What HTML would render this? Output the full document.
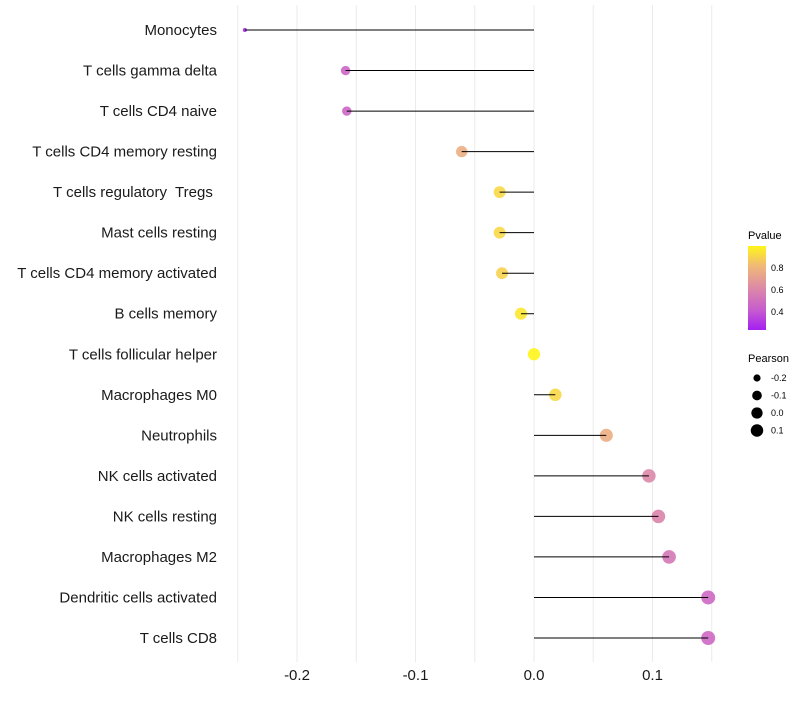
<!DOCTYPE html>
<html><head><meta charset="utf-8"><style>
body{margin:0;background:#fff;font-family:"Liberation Sans",sans-serif}
text{white-space:pre}
</style></head><body>
<svg id="c" width="800" height="700" xmlns="http://www.w3.org/2000/svg" font-family="Liberation Sans, sans-serif">
<defs><linearGradient id="pg" x1="0" y1="1" x2="0" y2="0">
<stop offset="0" stop-color="#a31ff2"/><stop offset="0.23" stop-color="#c65ad0"/><stop offset="0.49" stop-color="#dc88a8"/><stop offset="0.76" stop-color="#f0b878"/><stop offset="1" stop-color="#fff51a"/></linearGradient></defs>
<g id="grid"></g>
<g id="marks"></g>
<g id="ylab"></g>
<g id="xlab"></g>
<g>
<text x="748" y="239" font-size="11">Pvalue</text>
<rect x="748" y="246" width="18" height="84" fill="url(#pg)"/>
<text x="771" y="271" font-size="9">0.8</text>
<text x="771" y="293" font-size="9">0.6</text>
<text x="771" y="315" font-size="9">0.4</text>
</g>
<g id="sizeleg">
<text x="748" y="362" font-size="11">Pearson</text>
</g>
</svg>
<script>
const categories=["Monocytes","T cells gamma delta","T cells CD4 naive","T cells CD4 memory resting","T cells regulatory  Tregs ","Mast cells resting","T cells CD4 memory activated","B cells memory","T cells follicular helper","Macrophages M0","Neutrophils","NK cells activated","NK cells resting","Macrophages M2","Dendritic cells activated","T cells CD8"];
const pearson=[-0.244,-0.159,-0.158,-0.061,-0.029,-0.029,-0.027,-0.011,0.0,0.018,0.061,0.097,0.105,0.114,0.147,0.147];
const pvalue=[0.25,0.45,0.45,0.76,0.9,0.9,0.88,0.95,1.0,0.9,0.76,0.6,0.58,0.53,0.46,0.46];
const xTicks=[-0.2,-0.1,0.0,0.1];
const xTickLabels=["-0.2","-0.1","0.0","0.1"];
const sizeLegendVals=[-0.2,-0.1,0.0,0.1];
const sizeLegendLabels=["-0.2","-0.1","0.0","0.1"];
const NS="http://www.w3.org/2000/svg";
const X=v=>534+v*1185;
const Y=i=>30+i*(608/15);
const R=v=>2+5*Math.pow(Math.max(0,(v+0.244)/0.391),0.4);
function col(p){const st=[[0.23,[163,31,242]],[0.4,[198,90,208]],[0.6,[220,136,168]],[0.8,[240,184,120]],[0.99,[255,245,26]]];
 if(p<=st[0][0])return `rgb(${st[0][1]})`;
 for(let k=1;k<st.length;k++){if(p<=st[k][0]){const t=(p-st[k-1][0])/(st[k][0]-st[k-1][0]);const a=st[k-1][1],b=st[k][1];return `rgb(${a.map((c,j)=>Math.round(c+(b[j]-c)*t)).join(',')})`;}}
 return `rgb(${st[st.length-1][1]})`;}
function mk(t,a,p){const e=document.createElementNS(NS,t);for(const k in a)e.setAttribute(k,a[k]);p.appendChild(e);return e;}
const grid=document.getElementById('grid');
for(let v=-0.25;v<=0.151;v+=0.05){const l=mk('line',{x1:X(v),x2:X(v),y1:5,y2:662,stroke:'#ebebeb','stroke-width':1},grid);

}
const marks=document.getElementById('marks'),yl=document.getElementById('ylab'),xl=document.getElementById('xlab');
categories.forEach((c,i)=>{
 const d=mk('circle',{cx:X(pearson[i]),cy:Y(i),r:R(pearson[i]),fill:col(pvalue[i]),'fill-opacity':0.9},marks);
 
 
 const s=mk('line',{x1:X(0),x2:X(pearson[i]),y1:Y(i),y2:Y(i),stroke:'#000','stroke-width':1},marks);
 
 
 const t=mk('text',{x:217,y:Y(i)+5,'text-anchor':'end','font-size':15,fill:'#1a1a1a'},yl);t.textContent=c;
 
 
});
xTicks.forEach((v,i)=>{const t=mk('text',{x:X(v),y:680,'text-anchor':'middle','font-size':15,fill:'#1a1a1a'},xl);t.textContent=xTickLabels[i];
 
 });
const sl=document.getElementById('sizeleg');
sizeLegendVals.forEach((v,i)=>{const y=378+i*17.5;
 const c=mk('circle',{cx:757,cy:y,r:R(v)-0.5,fill:'#000'},sl);
 
 
 const t=mk('text',{x:771,y:y+3,'font-size':9},sl);t.textContent=sizeLegendLabels[i];});
</script>
</body></html>
